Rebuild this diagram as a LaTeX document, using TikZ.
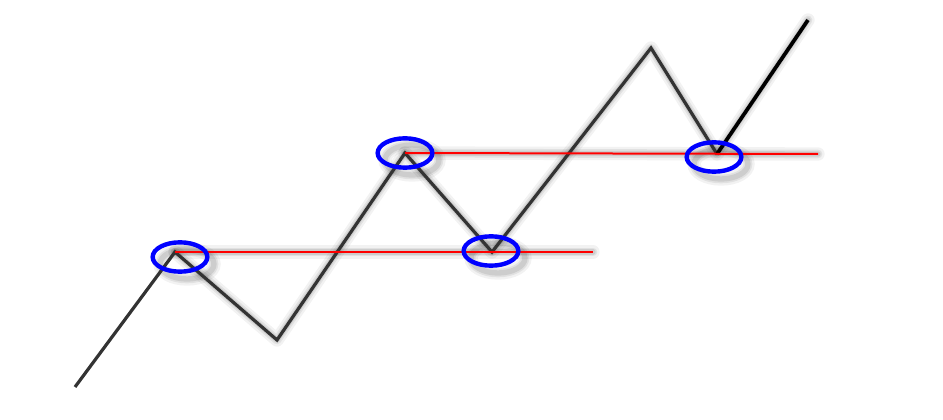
\documentclass[tikz,border=0pt]{standalone}
\usetikzlibrary{shapes.geometric}
\begin{document}
\begin{tikzpicture}[x=0.75pt,y=-0.75pt,
  zig/.style={draw=black!80,line width=2.4pt,line join=miter},
  lastseg/.style={draw=black,line width=2.8pt},
  level/.style={draw=red,line width=1.5pt},
  ring/.style={ellipse,draw=blue,line width=3.3pt,minimum width=41pt,minimum height=22pt,inner sep=0pt},
  shadowline/.style={draw=black,line cap=round,line join=round}]
\useasboundingbox (0,0) rectangle (943,420);
\coordinate (s)  at (75,387);
\coordinate (p1) at (175,252);
\coordinate (t1) at (277,340);
\coordinate (p2) at (405,153);
\coordinate (t2) at (492,252);
\coordinate (p3) at (651,48);
\coordinate (t3) at (717,154);
\coordinate (e)  at (808,20);
\coordinate (r1) at (593,252);
\coordinate (r2) at (818,154);
% soft shadows
\begin{scope}[shift={(7,7)}]
  \foreach \w/\o in {10pt/0.05,6.5pt/0.07,4pt/0.09}{
    \draw[shadowline,line width=\w,opacity=\o] (p1) -- (t1) -- (p2) -- (t2) -- (p3) -- (t3) -- (e);
    \draw[shadowline,line width=\w,opacity=\o] (p1) -- (r1);
    \draw[shadowline,line width=\w,opacity=\o] (p2) -- (r2);
    \foreach \c in {(180,257),(405,153),(491,251),(714,157)}{
      \draw[line width=\w,opacity=\o] \c ellipse [x radius=27, y radius=15];
    }
  }
\end{scope}
% zigzag
\draw[zig] (s) -- (p1) -- (t1) -- (p2) -- (t2) -- (p3) -- (t3);
\draw[lastseg] (t3) -- (e);
% levels
\draw[level] (p1) -- (r1);
\draw[level] (p2) -- (r2);
% rings
\node[ring] (c1) at (180,257) {};
\node[ring] (c2) at (405,153) {};
\node[ring] (c3) at (491,251) {};
\node[ring] (c4) at (714,157) {};
\end{tikzpicture}
\end{document}
